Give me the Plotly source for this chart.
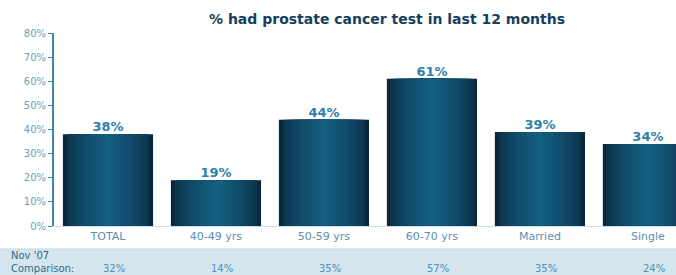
import plotly.graph_objects as go

categories = ["TOTAL", "40-49 yrs", "50-59 yrs", "60-70 yrs", "Married", "Single"]
values = [38, 19, 44, 61, 39, 34]
comparison = ["32%", "14%", "35%", "57%", "35%", "24%"]
y_ticks = [0, 10, 20, 30, 40, 50, 60, 70, 80]
y_tick_labels = [f"{t}%" for t in y_ticks]
title_text = "% had prostate cancer test in last 12 months"
comparison_label = ["Nov '07", "Comparison:"]

x_idx = list(range(len(categories)))

# horizontal gradient simulated with overlaid bars (dark edges, lighter centre)
edge_rgb = (9, 40, 62)
centre_rgb = (20, 94, 128)
n_strips = 12
full_w = 0.835

fig = go.Figure()
for k in range(n_strips):
    t = k / (n_strips - 1)
    w = full_w * (1 - t) + 0.06 * t
    f = t ** 0.6
    col = "rgb({},{},{})".format(*[round(e + (c - e) * f) for e, c in zip(edge_rgb, centre_rgb)])
    fig.add_trace(go.Bar(
        x=x_idx, y=values, width=w,
        marker=dict(color=col, line=dict(width=0)),
        showlegend=False, hoverinfo="skip",
    ))

# value labels
fig.add_trace(go.Scatter(
    x=x_idx, y=values, mode="text",
    text=[f"<b>{v}%</b>" for v in values], textposition="top center",
    textfont=dict(family="DejaVu Sans", size=13, color="#2e80a8"),
    showlegend=False, hoverinfo="skip", cliponaxis=False,
))

annotations = []
for i, c in enumerate(comparison):
    annotations.append(dict(
        x=i + 0.06, y=-0.219, xref="x", yref="paper", text=c, showarrow=False,
        font=dict(family="DejaVu Sans", size=10, color="#4f92b6"),
        xanchor="center", yanchor="middle",
    ))
annotations.append(dict(
    x=-0.072, y=-0.155, xref="paper", yref="paper", text=comparison_label[0], showarrow=False,
    font=dict(family="DejaVu Sans", size=10, color="#2c6b91"), xanchor="left", yanchor="middle",
))
annotations.append(dict(
    x=-0.072, y=-0.219, xref="paper", yref="paper", text=comparison_label[1], showarrow=False,
    font=dict(family="DejaVu Sans", size=10, color="#2c6b91"), xanchor="left", yanchor="middle",
))
annotations.append(dict(
    x=0.535, y=1.075, xref="paper", yref="paper", text="<b>" + title_text + "</b>", showarrow=False,
    font=dict(family="DejaVu Sans", size=14, color="#173f5c"), xanchor="center", yanchor="middle",
))

fig.update_layout(
    width=676, height=275,
    margin=dict(l=54, r=0, t=33, b=49),
    paper_bgcolor="white", plot_bgcolor="white",
    barmode="overlay",
    annotations=annotations,
    shapes=[dict(
        type="rect", xref="paper", yref="paper",
        x0=-0.1, x1=1.0, y0=-0.119, y1=-0.26,
        fillcolor="#d5e5ee", line=dict(width=0), layer="below",
    ), dict(
        type="line", xref="paper", yref="paper",
        x0=-0.1, x1=1.0, y0=-0.119, y1=-0.119,
        line=dict(color="#c3d8e4", width=1),
    )],
    xaxis=dict(
        tickmode="array", tickvals=x_idx, ticktext=categories,
        range=[-0.5, 5.26], showgrid=False, zeroline=False,
        showline=True, linecolor="#c9dce7", linewidth=1, ticks="",
        tickfont=dict(family="DejaVu Sans", size=11, color="#5a8fb0"),
    ),
    yaxis=dict(
        range=[0, 80], tickmode="array", tickvals=y_ticks, ticktext=y_tick_labels,
        showgrid=False, zeroline=False, showline=True, linecolor="#3f86a8", linewidth=2,
        ticks="outside", ticklen=4, tickcolor="#3f86a8",
        tickfont=dict(family="DejaVu Sans", size=10, color="#6a9ebb"),
    ),
)

fig.write_html(
    "out.html",
    config={"displayModeBar": False},
    post_script="document.body.style.margin='0';document.body.style.overflow='hidden';",
)
